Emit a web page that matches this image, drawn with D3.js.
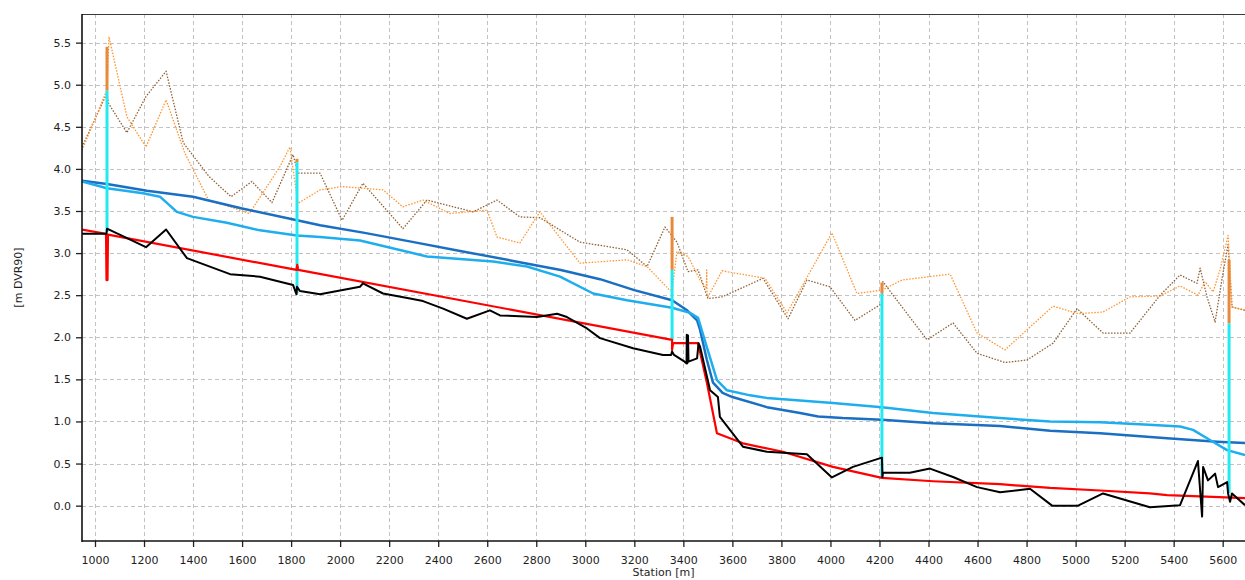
<!DOCTYPE html>
<html>
<head>
<meta charset="utf-8">
<script src="https://cdn.jsdelivr.net/npm/d3@7"></script>
<style>
  body { margin: 0; background: #fff; }
  svg text { font-family: "DejaVu Sans", Verdana, sans-serif; }
</style>
</head>
<body>
<svg id="chart" width="1245" height="580"></svg>
<script>
// Longitudinal profile: station [m] vs level [m DVR90]

const xTickValues = [1000, 1200, 1400, 1600, 1800, 2000, 2200, 2400, 2600, 2800, 3000,
  3200, 3400, 3600, 3800, 4000, 4200, 4400, 4600, 4800, 5000, 5200, 5400, 5600];
const yTickValues = [0, 0.5, 1, 1.5, 2, 2.5, 3, 3.5, 4, 4.5, 5, 5.5];

// Maximum water level
const waterMax = [
  [947, 3.86], [1049, 3.82], [1212, 3.74], [1400, 3.67], [1600, 3.53], [1824, 3.39],
  [1918, 3.33], [2100, 3.24], [2300, 3.13], [2500, 3.02], [2700, 2.91], [2900, 2.80],
  [3060, 2.69], [3200, 2.56], [3354, 2.44], [3415, 2.32], [3456, 2.20], [3468, 2.09],
  [3496, 1.73], [3521, 1.46], [3560, 1.34], [3600, 1.29], [3741, 1.17], [3876, 1.10],
  [3950, 1.06], [4050, 1.04], [4210, 1.02], [4418, 0.98], [4692, 0.945], [4896, 0.89],
  [5100, 0.86], [5373, 0.80], [5577, 0.76], [5691, 0.745]
];

// Water level, second event
const waterLevel = [
  [947, 3.85], [1049, 3.77], [1196, 3.71], [1265, 3.67], [1334, 3.49], [1400, 3.43],
  [1538, 3.36], [1673, 3.27], [1824, 3.21], [1918, 3.19], [2081, 3.15], [2354, 2.96],
  [2624, 2.90], [2762, 2.84], [2897, 2.72], [3032, 2.52], [3170, 2.44], [3354, 2.35],
  [3427, 2.29], [3460, 2.23], [3496, 1.88], [3537, 1.49], [3578, 1.37], [3672, 1.31],
  [3741, 1.28], [4010, 1.22], [4210, 1.17], [4418, 1.10], [4692, 1.04], [4896, 1.00],
  [5100, 0.99], [5300, 0.96], [5426, 0.94], [5479, 0.90], [5548, 0.78], [5618, 0.66],
  [5691, 0.60]
];

// Design bed level
const designBed = [
  [947, 3.28], [1045, 3.23], [1047, 2.68], [1051, 2.68], [1053, 3.22], [1822, 2.80],
  [1825, 2.86], [1829, 2.80], [3354, 1.97], [3354, 1.85], [3358, 1.93], [3460, 1.93],
  [3496, 1.46], [3537, 0.86], [3643, 0.74], [3806, 0.64], [4010, 0.46], [4210, 0.33],
  [4418, 0.29], [4692, 0.255], [4896, 0.21], [5100, 0.18], [5303, 0.145], [5373, 0.125],
  [5691, 0.09]
];

// Measured bed level
const bedLevel = [
  [947, 3.23], [1047, 3.23], [1049, 3.29], [1208, 3.07], [1290, 3.28], [1375, 2.94],
  [1551, 2.75], [1673, 2.72], [1808, 2.62], [1822, 2.51], [1824, 2.60], [1836, 2.55],
  [1918, 2.51], [2081, 2.60], [2093, 2.64], [2175, 2.52], [2285, 2.46], [2338, 2.43],
  [2420, 2.34], [2517, 2.22], [2611, 2.32], [2652, 2.26], [2803, 2.24], [2885, 2.28],
  [2925, 2.24], [3007, 2.105], [3060, 1.99], [3195, 1.87], [3317, 1.79], [3350, 1.79],
  [3354, 1.83], [3362, 1.79], [3405, 1.71], [3413, 1.69], [3414, 2.03], [3416, 1.69],
  [3419, 2.02], [3421, 1.71], [3456, 1.75], [3462, 1.93], [3468, 1.89], [3487, 1.65],
  [3509, 1.37], [3541, 1.29], [3549, 1.055], [3643, 0.70], [3741, 0.64], [3904, 0.61],
  [4006, 0.335], [4092, 0.46], [4210, 0.57], [4212, 0.34], [4214, 0.39], [4324, 0.39],
  [4406, 0.44], [4500, 0.34], [4598, 0.22], [4692, 0.16], [4814, 0.20], [4904, 0.00],
  [5010, 0.00], [5112, 0.145], [5303, -0.02], [5426, 0.006], [5499, 0.53], [5516, -0.13],
  [5520, 0.46], [5540, 0.30], [5569, 0.38], [5581, 0.22], [5618, 0.28], [5622, 0.145],
  [5630, 0.045], [5638, 0.145], [5691, 0.006]
];

// Left bank level
const bankLeft = [
  [947, 4.22], [1049, 4.94], [1057, 5.57], [1130, 4.62], [1208, 4.26], [1290, 4.82],
  [1366, 4.19], [1465, 3.62], [1520, 3.58], [1630, 3.47], [1755, 4.03], [1795, 4.26],
  [1828, 3.59], [1918, 3.75], [2010, 3.79], [2175, 3.75], [2256, 3.55], [2338, 3.63],
  [2448, 3.47], [2599, 3.51], [2640, 3.19], [2733, 3.12], [2815, 3.49], [2978, 2.88],
  [3170, 2.92], [3252, 2.84], [3344, 2.56], [3354, 2.56], [3374, 3.02], [3419, 2.96],
  [3468, 2.68], [3494, 2.58], [3495, 2.80], [3497, 2.50], [3500, 2.48], [3558, 2.79],
  [3733, 2.70], [3823, 2.29], [4006, 3.24], [4108, 2.52], [4210, 2.56], [4292, 2.68],
  [4488, 2.75], [4598, 2.05], [4712, 1.85], [4908, 2.37], [5010, 2.28], [5112, 2.30],
  [5222, 2.48], [5345, 2.49], [5426, 2.61], [5499, 2.50], [5528, 2.66], [5561, 2.54],
  [5589, 2.80], [5622, 3.21], [5638, 2.36], [5691, 2.32]
];

// Right bank level
const bankRight = [
  [947, 4.26], [1049, 4.90], [1055, 4.78], [1130, 4.43], [1208, 4.86], [1290, 5.16],
  [1360, 4.31], [1465, 3.91], [1555, 3.67], [1640, 3.85], [1722, 3.60], [1808, 4.17],
  [1828, 3.95], [1918, 3.95], [2008, 3.39], [2093, 3.83], [2256, 3.29], [2354, 3.63],
  [2542, 3.49], [2640, 3.63], [2733, 3.43], [2815, 3.42], [2978, 3.13], [3170, 3.04],
  [3252, 2.84], [3325, 3.31], [3374, 3.13], [3419, 2.78], [3460, 2.80], [3500, 2.46],
  [3558, 2.48], [3725, 2.70], [3827, 2.22], [3904, 2.68], [3998, 2.60], [4100, 2.20],
  [4210, 2.40], [4214, 2.66], [4292, 2.36], [4394, 1.97], [4500, 2.17], [4598, 1.81],
  [4712, 1.70], [4802, 1.73], [4908, 1.93], [5006, 2.34], [5112, 2.05], [5222, 2.05],
  [5345, 2.50], [5426, 2.74], [5495, 2.64], [5508, 2.82], [5536, 2.48], [5569, 2.18],
  [5601, 2.76], [5622, 3.10], [5638, 2.36], [5691, 2.32]
];

// Structures: station, sill level, opening top, deck top
const structStation = [1049, 1824, 3354, 4210, 5626];
const structSill    = [3.25, 2.52, 1.97, 0.34, 0.145];
const structOpening = [4.93, 4.08, 2.80, 2.52, 2.165];
const structDeck    = [5.45, 4.12, 3.43, 2.65, 2.92];

const W = 1245, H = 580;
const plot = { left: 82, top: 14, right: 1245, bottom: 541 };

const svg = d3.select("#chart");
const x = d3.scaleLinear().domain([947, 5691]).range([plot.left, plot.right]);
const y = d3.scaleLinear().domain([-0.42, 5.84]).range([plot.bottom, plot.top]);

svg.append("rect").attr("width", W).attr("height", H).attr("fill", "#fff");

svg.append("defs").append("clipPath").attr("id", "plotClip")
  .append("rect")
  .attr("x", plot.left).attr("y", plot.top)
  .attr("width", plot.right - plot.left).attr("height", plot.bottom - plot.top);

// grid
const grid = svg.append("g").attr("stroke", "#c2c2c2").attr("stroke-width", 1)
  .attr("stroke-dasharray", "4,3").attr("fill", "none");
grid.selectAll("line.v").data(xTickValues).join("line")
  .attr("x1", d => Math.round(x(d)) + 0.5).attr("x2", d => Math.round(x(d)) + 0.5)
  .attr("y1", plot.top).attr("y2", plot.bottom);
grid.selectAll("line.h").data(yTickValues).join("line")
  .attr("y1", d => Math.round(y(d)) + 0.5).attr("y2", d => Math.round(y(d)) + 0.5)
  .attr("x1", plot.left).attr("x2", plot.right);

const line = d3.line().x(d => x(d[0])).y(d => y(d[1]));
const layer = svg.append("g").attr("clip-path", "url(#plotClip)");

function drawSeries(data, color, width, dash) {
  const p = layer.append("path").datum(data)
    .attr("d", line).attr("fill", "none")
    .attr("stroke", color).attr("stroke-width", width)
    .attr("stroke-linejoin", "round");
  if (dash) p.attr("stroke-dasharray", dash);
  return p;
}

// bank levels (dotted)
drawSeries(bankRight, "#8f6034", 1.3, "1.5,1.5");
drawSeries(bankLeft, "#ff9530", 1.3, "1.5,1.5");

// water levels
drawSeries(waterMax, "#1a6fc2", 2.5);
drawSeries(waterLevel, "#1eaeee", 2.5);

// structures
const structs = structStation.map((s, i) => ({
  s, sill: structSill[i], open: structOpening[i], deck: structDeck[i]
}));
layer.selectAll("line.deck").data(structs).join("line")
  .attr("x1", d => x(d.s)).attr("x2", d => x(d.s))
  .attr("y1", d => y(d.open)).attr("y2", d => y(d.deck))
  .attr("stroke", "#e98a3a").attr("stroke-width", 3);
layer.selectAll("line.open").data(structs).join("line")
  .attr("x1", d => x(d.s)).attr("x2", d => x(d.s))
  .attr("y1", d => y(d.sill)).attr("y2", d => y(d.open))
  .attr("stroke", "#22eaf0").attr("stroke-width", 3);

// bed levels
drawSeries(designBed, "#ff0000", 2.2);
drawSeries(bedLevel, "#000000", 2);

// axes
const xAxis = svg.append("g").attr("transform", `translate(0,${plot.bottom})`)
  .call(d3.axisBottom(x).tickValues(xTickValues).tickFormat(d3.format("d"))
    .tickSize(6).tickPadding(9).tickSizeOuter(0));
const yAxis = svg.append("g").attr("transform", `translate(${plot.left},0)`)
  .call(d3.axisLeft(y).tickValues(yTickValues).tickFormat(d3.format(".1f"))
    .tickSize(6).tickPadding(5).tickSizeOuter(0));

[xAxis, yAxis].forEach(a => {
  a.select(".domain").remove();
  a.selectAll(".tick line").attr("stroke", "#222").attr("stroke-width", 1.3);
  a.selectAll(".tick text").attr("fill", "#1e1e1e")
    .style("font-family", "'DejaVu Sans', Verdana, sans-serif").style("font-size", "11px");
});

// frame lines
svg.append("line").attr("x1", plot.left).attr("x2", plot.right)
  .attr("y1", plot.top + 0.5).attr("y2", plot.top + 0.5)
  .attr("stroke", "#3a3a3a").attr("stroke-width", 1);
svg.append("line").attr("x1", plot.left).attr("x2", plot.left)
  .attr("y1", plot.top).attr("y2", plot.bottom + 1)
  .attr("stroke", "#111").attr("stroke-width", 1.6);
svg.append("line").attr("x1", plot.left).attr("x2", plot.right)
  .attr("y1", plot.bottom).attr("y2", plot.bottom)
  .attr("stroke", "#111").attr("stroke-width", 1.6);

// axis titles
svg.append("text")
  .attr("x", (plot.left + plot.right) / 2).attr("y", 576)
  .attr("text-anchor", "middle").attr("font-size", 11).attr("fill", "#1e1e1e")
  .text("Station [m]");
svg.append("text")
  .attr("transform", `translate(22,${(plot.top + plot.bottom) / 2}) rotate(-90)`)
  .attr("text-anchor", "middle").attr("font-size", 11).attr("fill", "#1e1e1e")
  .text("[m DVR90]");
</script>
</body>
</html>
